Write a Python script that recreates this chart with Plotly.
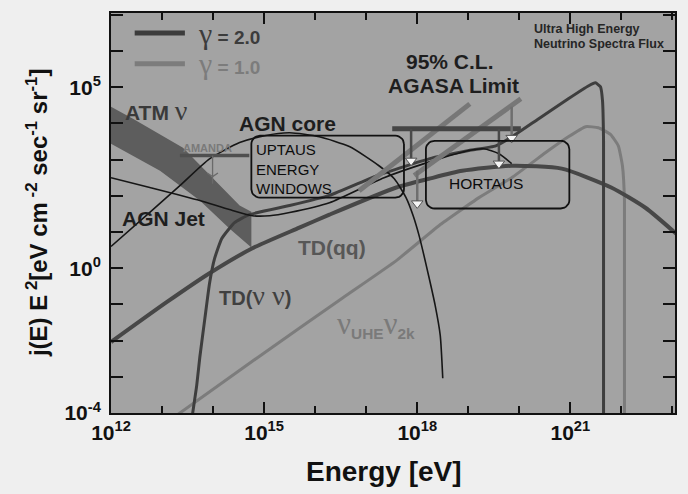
import numpy as np
import plotly.graph_objects as go

# ---------------- data (log10 E [eV], log10 E^2 j) ----------------
atm_upper_logE = [12.00, 12.43, 13.41, 14.52, 14.75]
atm_upper_logF = [4.46, 4.13, 3.33, 1.73, 1.56]
atm_lower_logE = [12.00, 12.96, 13.74, 14.32, 14.75]
atm_lower_logF = [3.44, 2.69, 1.87, 1.10, 0.57]

agn_core_logE = [12.00, 12.76, 13.35, 13.93, 14.52, 15.01, 15.50, 16.08, 16.67, 17.25,
                 17.55, 17.78, 17.92, 18.04, 18.23, 18.35, 18.45, 18.50]
agn_core_logF = [0.60, 1.54, 2.28, 3.02, 3.47, 3.66, 3.74, 3.63, 3.36, 2.83,
                 2.47, 1.95, 1.45, 0.88, -0.25, -1.02, -1.85, -3.04]

agn_jet_logE = [12.00, 12.76, 13.74, 14.32, 14.77, 15.11, 15.50, 16.28, 17.35, 18.43,
                19.01, 19.30, 19.60, 19.85]
agn_jet_logF = [2.50, 2.23, 1.87, 1.62, 1.45, 1.45, 1.54, 1.81, 2.50, 3.02,
                3.25, 3.30, 3.16, 2.89]

td_qq_logE = [12.00, 13.09, 13.93, 14.77, 15.69, 16.28, 17.59, 18.23, 18.88, 19.85,
              20.83, 21.80, 22.47, 23.10]
td_qq_logF = [-2.04, -0.94, -0.14, 0.55, 1.12, 1.48, 2.23, 2.47, 2.69, 2.83,
              2.75, 2.23, 1.67, 0.92]

td_nn_logE = [13.59, 13.68, 13.74, 13.84, 13.93, 14.03, 14.17, 14.42, 14.71, 15.50,
              16.28, 17.25, 18.23, 19.01, 19.54, 19.89, 20.38, 20.96, 21.36, 21.49,
              21.59, 21.63, 21.65, 21.65]
td_nn_logF = [-4.10, -3.23, -2.46, -1.38, -0.42, 0.27, 0.82, 1.26, 1.48, 1.73,
              2.01, 2.58, 3.02, 3.25, 3.38, 3.66, 4.13, 4.68, 5.04, 5.12,
              5.01, 4.62, 3.52, -4.10]

zburst_logE = [13.25, 14.91, 16.53, 17.59, 18.43, 19.21, 19.85, 20.57, 20.96, 21.30,
               21.55, 21.79, 21.94, 22.02, 22.06, 22.06]
zburst_logF = [-4.10, -2.43, -0.83, 0.21, 1.18, 1.95, 2.50, 3.25, 3.63, 3.91,
               3.88, 3.69, 3.38, 2.83, 1.87, -4.10]

# AGASA 95% C.L. limits
agasa2_logE = [17.51, 20.03]
agasa2_logF = [3.85, 3.85]
agasa2_arrow_logE = [17.88, 19.60]
agasa2_arrow_top = [3.85, 3.85]
agasa2_arrow_bot = [2.97, 2.89]

agasa1a_logE = [16.86, 19.03]
agasa1a_logF = [2.14, 4.54]
agasa1b_logE = [17.94, 20.03]
agasa1b_logF = [2.56, 4.68]
agasa1_arrow_logE = [18.00, 19.85]
agasa1_arrow_top = [2.69, 4.46]
agasa1_arrow_bot = [1.79, 3.60]

# AMANDA limit
amanda_logE = [13.35, 14.71]
amanda_logF = [3.11, 3.11]
amanda_arrow_logE = [13.99]
amanda_arrow_top = [3.11]
amanda_arrow_bot = [2.53]

# energy windows
uptaus_logE = [14.75, 17.74]
uptaus_logF = [1.95, 3.66]
hortaus_logE = [18.17, 20.98]
hortaus_logF = [1.65, 3.52]

x_tick_exp = list(range(12, 24))
x_label_exp = [12, 15, 18, 21]
y_tick_exp = list(range(-4, 8))
y_label_exp = [-4, 0, 5]

# ---------------- styles ----------------
DARK = '#3e3e3e'
LIGHT = '#7c7c7c'
THIN = '#161616'
SANS = 'Liberation Sans, Arial, sans-serif'
SERIF = 'Liberation Serif, Times New Roman, serif'


def p10(v):
    return [10.0 ** a for a in v]


fig = go.Figure()


def line(xs, ys, color, width, shape='spline', smoothing=0.6):
    fig.add_trace(go.Scatter(x=p10(xs), y=p10(ys), mode='lines',
                             line=dict(color=color, width=width, shape=shape,
                                       smoothing=smoothing if shape == 'spline' else None),
                             showlegend=False, hoverinfo='skip'))


# ATM band
band_x = atm_upper_logE + atm_lower_logE[::-1]
band_y = atm_upper_logF + atm_lower_logF[::-1]
fig.add_trace(go.Scatter(x=p10(band_x), y=p10(band_y), mode='lines', fill='toself',
                         fillcolor='#5d5d5d', line=dict(width=0, color='#5d5d5d'),
                         showlegend=False, hoverinfo='skip'))

# curves
line(zburst_logE, zburst_logF, LIGHT, 3, smoothing=0.4)
line(td_qq_logE, td_qq_logF, '#474747', 4, smoothing=0.6)
line(td_nn_logE, td_nn_logF, DARK, 3, smoothing=0.4)
line(agn_core_logE, agn_core_logF, THIN, 1.6, smoothing=0.6)
line(agn_jet_logE, agn_jet_logF, THIN, 1.6, smoothing=0.6)

# AGASA gamma=1 diagonal limits
line(agasa1a_logE, agasa1a_logF, '#777777', 5, shape='linear')
line(agasa1b_logE, agasa1b_logF, '#777777', 5, shape='linear')
# AGASA gamma=2 bar
line(agasa2_logE, agasa2_logF, '#454545', 5, shape='linear')
# AMANDA bar
line(amanda_logE, amanda_logF, '#4f4f4f', 3.5, shape='linear')


def arrows(xs, tops, bots, color, width):
    for x, t, b in zip(xs, tops, bots):
        line([x, x], [t, b], color, width, shape='linear')
    fig.add_trace(go.Scatter(x=p10(xs), y=p10(bots), mode='markers',
                             marker=dict(symbol='triangle-down', size=10, color='#f4f4f4',
                                         line=dict(color='#555555', width=1)),
                             showlegend=False, hoverinfo='skip'))


arrows(agasa2_arrow_logE, agasa2_arrow_top, agasa2_arrow_bot, '#4a4a4a', 2.5)
arrows(agasa1_arrow_logE, agasa1_arrow_top, agasa1_arrow_bot, '#6e6e6e', 2.5)

# AMANDA arrow (thin, open head)
for x, t, b in zip(amanda_arrow_logE, amanda_arrow_top, amanda_arrow_bot):
    line([x, x], [t, b], '#6a6a6a', 1.3, shape='linear')
fig.add_trace(go.Scatter(x=p10(amanda_arrow_logE), y=p10(amanda_arrow_bot), mode='markers',
                         marker=dict(symbol='y-down-open', size=9, color='#6a6a6a',
                                     line=dict(color='#6a6a6a', width=1.3)),
                         showlegend=False, hoverinfo='skip'))


# rounded boxes (drawn in log space)
def rounded_box(xr, yr, rx=0.17, ry=0.23):
    x0, x1 = xr
    y0, y1 = yr
    xs, ys = [], []
    corners = [(x1 - rx, y1 - ry, 0), (x0 + rx, y1 - ry, 90),
               (x0 + rx, y0 + ry, 180), (x1 - rx, y0 + ry, 270)]
    for cx, cy, a0 in corners:
        for a in np.linspace(a0, a0 + 90, 8):
            xs.append(cx + rx * np.cos(np.radians(a)))
            ys.append(cy + ry * np.sin(np.radians(a)))
    xs.append(xs[0])
    ys.append(ys[0])
    fig.add_trace(go.Scatter(x=p10(xs), y=p10(ys), mode='lines',
                             line=dict(color='#111111', width=1.8),
                             showlegend=False, hoverinfo='skip'))


rounded_box(uptaus_logE, uptaus_logF)
rounded_box(hortaus_logE, hortaus_logF)

# ---------------- annotations ----------------
ann = []


def txt(x, y, text, size, color, xanchor='center', ref='data', family=SANS, angle=0, align='center'):
    d = dict(x=x, y=y, text=text, showarrow=False, xanchor=xanchor, yanchor='middle',
             font=dict(family=family, size=size, color=color), textangle=angle, align=align)
    if ref == 'data':
        d.update(xref='x', yref='y')
    else:
        d.update(xref='paper', yref='paper')
    ann.append(d)


txt(12.23, 4.35, '<b>ATM</b> <span style="font-family:Liberation Serif;font-size:28px;font-weight:normal">ν</span>',
    21, '#3a3a3a', xanchor='left')
txt(15.46, 3.99, '<b>AGN core</b>', 21, '#1e1e1e')
txt(12.18, 1.37, '<b>AGN Jet</b>', 21, '#1e1e1e', xanchor='left')
txt(13.89, 3.33, '<b>AMANDA</b>', 11, '#7a7a7a')
txt(14.81, 2.75, 'UPTAUS<br>ENERGY<br>WINDOWS', 15, '#0c0c0c', xanchor='left', align='left')
txt(19.34, 2.34, 'HORTAUS', 15.5, '#0c0c0c')
txt(16.32, 0.57, '<b>TD(qq)</b>', 21, '#575757')
txt(14.07, -0.75, '<b>TD(</b><span style="font-family:Liberation Serif;font-size:28px">ν ν</span><b>)</b>',
    20, '#404040', xanchor='left')
txt(16.38, -1.55, '<span style="font-family:Liberation Serif;font-size:31px">ν</span><sub><b>UHE</b></sub>'
                  '<span style="font-family:Liberation Serif;font-size:31px">ν</span><sub><b>2k</b></sub>',
    22, '#7a7a7a', xanchor='left')
txt(18.64, 5.72, '<b>95% C.L.</b>', 21, '#1e1e1e')
txt(18.72, 5.04, '<b>AGASA Limit</b>', 21, '#1e1e1e')
txt(0.747, 0.960, '<b>Ultra High Energy</b>', 12.5, '#262626', xanchor='left', ref='paper',
    family='Liberation Sans Narrow, Liberation Sans, Arial Narrow, sans-serif')
txt(0.747, 0.923, '<b>Neutrino Spectra Flux</b>', 12.5, '#262626', xanchor='left', ref='paper',
    family='Liberation Sans Narrow, Liberation Sans, Arial Narrow, sans-serif')

# legend
txt(0.150, 0.950, '<span style="font-family:Liberation Serif;font-size:30px">γ</span><b> = 2.0</b>',
    19, '#3c3c3c', xanchor='left', ref='paper')
txt(0.150, 0.873, '<span style="font-family:Liberation Serif;font-size:30px">γ</span><b> = 1.0</b>',
    19, '#7c7c7c', xanchor='left', ref='paper')
shapes = [
    dict(type='line', xref='paper', yref='paper', x0=0.042, x1=0.131, y0=0.950, y1=0.950,
         line=dict(color='#3c3c3c', width=5)),
    dict(type='line', xref='paper', yref='paper', x0=0.042, x1=0.131, y0=0.873, y1=0.873,
         line=dict(color='#7c7c7c', width=5)),
]

# axis titles
txt(-0.131, 0.50, '<b>j(E) E<sup> 2</sup>[eV cm<sup> -2</sup> sec<sup>-1</sup> sr<sup>-1</sup>]</b>',
    24, '#111111', ref='paper', angle=-90)
txt(0.484, -0.145, '<b>Energy [eV]</b>', 28, '#111111', ref='paper')

fig.update_layout(
    width=688, height=494,
    margin=dict(l=111, r=11, t=12, b=81),
    paper_bgcolor='#efefef',
    plot_bgcolor='#a3a3a3',
    annotations=ann,
    shapes=shapes,
    showlegend=False,
)

fig.update_xaxes(
    type='log', range=[12, 23.05],
    tickvals=[10.0 ** e for e in x_label_exp],
    ticktext=[f'<b>10<sup>{e}</sup></b>' for e in x_label_exp],
    ticks='inside', ticklen=11, tickwidth=1.5, tickcolor='#111111',
    minor=dict(tickvals=[10.0 ** e for e in x_tick_exp if e not in x_label_exp],
               ticks='inside', ticklen=7, tickwidth=1.5, tickcolor='#111111'),
    showline=True, linecolor='#111111', linewidth=2, mirror='ticks',
    showgrid=False, zeroline=False,
    tickfont=dict(family=SANS, size=21, color='#111111'),
)
fig.update_yaxes(
    type='log', range=[-4, 7.05],
    tickvals=[10.0 ** e for e in y_label_exp],
    ticktext=[f'<b>10<sup>{e}</sup></b>' for e in y_label_exp],
    ticks='inside', ticklen=12, tickwidth=1.5, tickcolor='#111111',
    minor=dict(tickvals=[10.0 ** e for e in y_tick_exp if e not in y_label_exp],
               ticks='inside', ticklen=12, tickwidth=1.5, tickcolor='#111111'),
    showline=True, linecolor='#111111', linewidth=2, mirror='ticks',
    showgrid=False, zeroline=False,
    tickfont=dict(family=SANS, size=21, color='#111111'),
    ticklabelstandoff=4,
)

fig.write_html('out.html')
